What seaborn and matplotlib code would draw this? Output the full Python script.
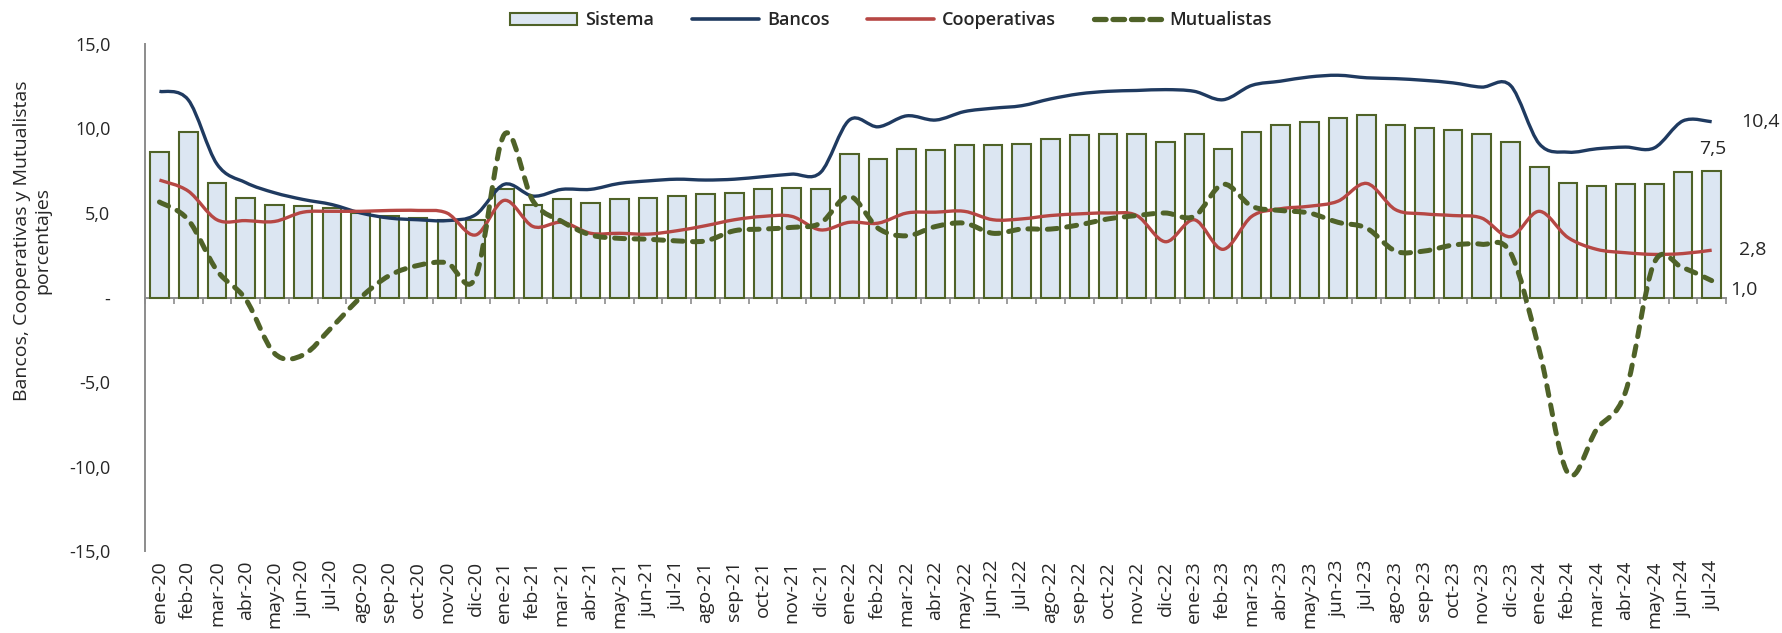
import matplotlib
matplotlib.use("Agg")
import matplotlib.pyplot as plt
import seaborn as sns
from matplotlib.path import Path
from matplotlib.patches import PathPatch, Patch
from matplotlib.lines import Line2D
from matplotlib.ticker import FuncFormatter

# meses ene-20 .. jul-24
meses = ["ene-20", "feb-20", "mar-20", "abr-20", "may-20", "jun-20", "jul-20", "ago-20", "sep-20", "oct-20", "nov-20", "dic-20",
         "ene-21", "feb-21", "mar-21", "abr-21", "may-21", "jun-21", "jul-21", "ago-21", "sep-21", "oct-21", "nov-21", "dic-21",
         "ene-22", "feb-22", "mar-22", "abr-22", "may-22", "jun-22", "jul-22", "ago-22", "sep-22", "oct-22", "nov-22", "dic-22",
         "ene-23", "feb-23", "mar-23", "abr-23", "may-23", "jun-23", "jul-23", "ago-23", "sep-23", "oct-23", "nov-23", "dic-23",
         "ene-24", "feb-24", "mar-24", "abr-24", "may-24", "jun-24", "jul-24"]

sistema = [8.6, 9.8, 6.8, 5.9, 5.5, 5.4, 5.3, 5.0, 4.8, 4.7, 4.6, 4.6,
           6.4, 5.5, 5.8, 5.6, 5.8, 5.9, 6.0, 6.1, 6.2, 6.4, 6.5, 6.4,
           8.5, 8.2, 8.8, 8.7, 9.0, 9.0, 9.1, 9.4, 9.6, 9.7, 9.7, 9.2,
           9.7, 8.8, 9.8, 10.2, 10.4, 10.6, 10.8, 10.2, 10.0, 9.9, 9.7, 9.2,
           7.7, 6.8, 6.6, 6.7, 6.7, 7.4, 7.5]

bancos = [12.2, 11.7, 7.9, 6.8, 6.2, 5.8, 5.5, 5.0, 4.7, 4.6, 4.55, 4.9,
          6.7, 6.0, 6.4, 6.4, 6.75, 6.9, 7.0, 6.95, 7.0, 7.15, 7.3, 7.4,
          10.5, 10.1, 10.75, 10.5, 11.0, 11.2, 11.35, 11.75, 12.05, 12.2, 12.25, 12.3,
          12.2, 11.7, 12.55, 12.8, 13.05, 13.15, 13.0, 12.95, 12.85, 12.7, 12.45, 12.55,
          9.1, 8.6, 8.8, 8.9, 8.85, 10.45, 10.4]

cooperativas = [6.95, 6.3, 4.6, 4.55, 4.5, 5.05, 5.1, 5.1, 5.15, 5.15, 5.0, 3.7,
                5.75, 4.2, 4.45, 3.8, 3.8, 3.75, 3.95, 4.25, 4.6, 4.8, 4.8, 4.0,
                4.45, 4.4, 5.0, 5.05, 5.1, 4.6, 4.65, 4.85, 4.95, 5.0, 4.85, 3.3,
                4.6, 2.85, 4.8, 5.25, 5.4, 5.7, 6.75, 5.2, 4.95, 4.85, 4.7, 3.6,
                5.1, 3.55, 2.85, 2.65, 2.55, 2.6, 2.8]

mutualistas = [5.65, 4.6, 1.6, -0.1, -3.3, -3.4, -1.75, 0.0, 1.3, 1.9, 2.05, 1.2,
               9.65, 5.7, 4.5, 3.7, 3.5, 3.45, 3.35, 3.35, 3.95, 4.05, 4.15, 4.4,
               6.0, 4.1, 3.65, 4.2, 4.4, 3.8, 4.05, 4.05, 4.3, 4.65, 4.85, 5.0,
               4.8, 6.7, 5.4, 5.15, 5.0, 4.45, 4.1, 2.75, 2.75, 3.1, 3.15, 2.65,
               -3.1, -10.4, -7.8, -5.6, 2.05, 1.75, 1.0]

c_bar, c_edge = "#DCE6F2", "#4F6228"
c_bancos, c_coop, c_mutual = "#1F3A60", "#B64744", "#4F6228"
c_axis = "#8C8C8C"

sns.set_style("white")
plt.rcParams["font.family"] = ["Open Sans", "DejaVu Sans"]


def smooth_line(ax, ys, **kw):
    # Excel-style smoothed line: cubic Bezier through each monthly value
    xs = list(range(len(ys)))
    n = len(ys)
    verts = [(xs[0], ys[0])]
    codes = [Path.MOVETO]
    for i in range(n - 1):
        a = max(i - 1, 0)
        b = min(i + 2, n - 1)
        c1 = (xs[i] + (xs[i + 1] - xs[a]) / 6, ys[i] + (ys[i + 1] - ys[a]) / 6)
        c2 = (xs[i + 1] - (xs[b] - xs[i]) / 6, ys[i + 1] - (ys[b] - ys[i]) / 6)
        verts += [c1, c2, (xs[i + 1], ys[i + 1])]
        codes += [Path.CURVE4] * 3
    ax.add_patch(PathPatch(Path(verts, codes), fill=False, **kw))


fig = plt.figure(figsize=(17.82, 6.33), dpi=100)
ax = fig.add_axes([0.0814, 0.1295, 0.8872, 0.801])

sns.barplot(x=meses, y=sistema, color=c_bar, edgecolor=c_edge, linewidth=1.5,
            width=0.65, saturation=1, ax=ax)

smooth_line(ax, bancos, edgecolor=c_bancos, lw=2.4, zorder=4)
smooth_line(ax, cooperativas, edgecolor=c_coop, lw=2.4, zorder=4)
smooth_line(ax, mutualistas, edgecolor=c_mutual, lw=3.6, linestyle=(0, (2.0, 1.9)),
            capstyle="round", zorder=5)

ax.set_xlim(-0.5, len(meses) - 0.5)
ax.set_ylim(-15, 15)
ax.set_yticks([-15, -10, -5, 0, 5, 10, 15])
ax.yaxis.set_major_formatter(FuncFormatter(lambda v, p: "-" if v == 0 else f"{v:.1f}".replace(".", ",")))
ax.tick_params(axis="y", direction="out", length=4, width=1.2, color=c_axis, labelsize=13, pad=21)
ax.tick_params(axis="x", length=0, labelsize=14, rotation=90, pad=7)
ax.set_xlabel("")
ax.set_ylabel("")
fig.text(0.018, 0.62, "Bancos, Cooperativas y Mutualistas\nporcentajes", rotation=90,
         ha="center", va="center", fontsize=14, linespacing=1.2, multialignment="center")

for s in ["top", "right", "bottom"]:
    ax.spines[s].set_visible(False)
ax.spines["left"].set_color(c_axis)
ax.spines["left"].set_linewidth(1.4)

# category axis crossing at zero
sec = ax.secondary_xaxis(0.5)
sec.set_alignment("bottom")
sec.set_xticks([i - 0.5 for i in range(len(meses) + 1)])
sec.set_xticklabels([])
sec.tick_params(direction="out", length=4, width=1.2, color=c_axis)
sec.spines["bottom"].set_color(c_axis)
sec.spines["bottom"].set_linewidth(1.4)

# end labels
last = len(meses) - 1
fmt = lambda v: f"{v:.1f}".replace(".", ",")
ax.annotate(fmt(bancos[-1]), (last, bancos[-1]), xytext=(21, 0), textcoords="offset points",
            fontsize=14, va="center", ha="left")
ax.annotate(fmt(sistema[-1]), (last, sistema[-1]), xytext=(1, 16), textcoords="offset points",
            fontsize=14, va="center", ha="center")
ax.annotate(fmt(cooperativas[-1]), (last, cooperativas[-1]), xytext=(20, 0), textcoords="offset points",
            fontsize=14, va="center", ha="left")
ax.annotate(fmt(mutualistas[-1]), (last, mutualistas[-1]), xytext=(13, -7), textcoords="offset points",
            fontsize=14, va="center", ha="left")

handles = [Patch(facecolor=c_bar, edgecolor=c_edge, linewidth=1.5),
           Line2D([], [], color=c_bancos, lw=2.6),
           Line2D([], [], color=c_coop, lw=2.6),
           Line2D([], [], color=c_mutual, lw=3.8, linestyle=(0, (2.2, 1.3)), dash_capstyle="round")]
fig.legend(handles, ["Sistema", "Bancos", "Cooperativas", "Mutualistas"], loc="center",
           bbox_to_anchor=(0.5, 0.968), ncol=4, frameon=False,
           prop={"size": 13, "weight": "semibold"},
           handlelength=3.7, handleheight=0.6, columnspacing=2.1, handletextpad=0.45)

fig.savefig("out.png", dpi=100)
